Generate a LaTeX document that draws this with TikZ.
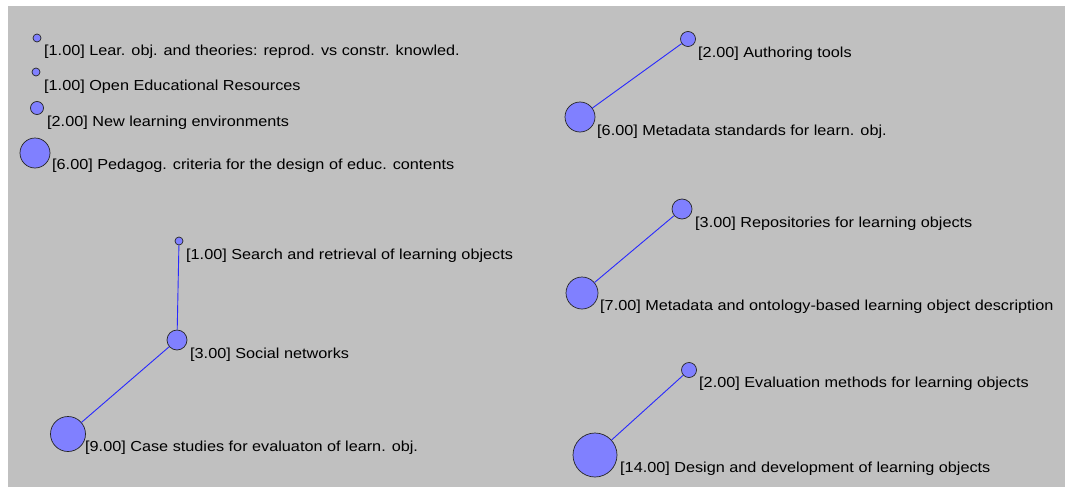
\documentclass[tikz,border=0pt]{standalone}
\usepackage{fontspec}
\setmainfont{Liberation Sans}
\definecolor{bggray}{RGB}{192,192,192}
\definecolor{nodefill}{RGB}{128,128,255}
\definecolor{edgeblue}{RGB}{40,40,255}
\newcommand{\widelab}[1]{\scalebox{1.12}[1]{#1}}
\begin{document}
\begin{tikzpicture}[x=1pt,y=-1pt,
  topic/.style={circle,draw=black!85,line width=0.7pt,fill=nodefill,inner sep=0pt,minimum size=#1},
  lbl/.style={anchor=west,inner sep=0pt,yshift=-2pt,font=\fontsize{14.5}{15}\selectfont},
  link/.style={draw=edgeblue,line width=0.9pt}]
\useasboundingbox (0,0) rectangle (1067,487);
\fill[white] (0,0) rectangle (1067,487);
\fill[bggray] (8,6) rectangle (1065,487);
% left group singles
\node[topic=8pt] (a1) at (37,38) {};
\node[lbl] (la1) at (44,50) {\widelab{[1.00] Lear. obj. and theories: reprod. vs constr. knowled.}};
\node[topic=8pt] (a2) at (36,72) {};
\node[lbl] (la2) at (44,85) {\widelab{[1.00] Open Educational Resources}};
\node[topic=13pt] (a3) at (37,108) {};
\node[lbl] (la3) at (47,121) {\widelab{[2.00] New learning environments}};
\node[topic=30pt] (a4) at (35,153) {};
\node[lbl] (la4) at (52,164) {\widelab{[6.00] Pedagog. criteria for the design of educ. contents}};
% left chain
\node[topic=8pt] (b1) at (179,241) {};
\node[lbl] (lb1) at (186,254) {\widelab{[1.00] Search and retrieval of learning objects}};
\node[topic=20pt] (b2) at (177,340) {};
\node[lbl] (lb2) at (190,353) {\widelab{[3.00] Social networks}};
\node[topic=35pt] (b3) at (68,434) {};
\node[lbl] (lb3) at (85,446) {\widelab{[9.00] Case studies for evaluaton of learn. obj.}};
% right pairs
\node[topic=15pt] (c1) at (688,39) {};
\node[lbl] (lc1) at (698,52) {\widelab{[2.00] Authoring tools}};
\node[topic=30pt] (c2) at (580,117) {};
\node[lbl] (lc2) at (597,130) {\widelab{[6.00] Metadata standards for learn. obj.}};
\node[topic=20pt] (d1) at (682,209) {};
\node[lbl] (ld1) at (695,222) {\widelab{[3.00] Repositories for learning objects}};
\node[topic=32pt] (d2) at (582,293) {};
\node[lbl] (ld2) at (600,305) {\widelab{[7.00] Metadata and ontology-based learning object description}};
\node[topic=15pt] (e1) at (689,370) {};
\node[lbl] (le1) at (699,382) {\widelab{[2.00] Evaluation methods for learning objects}};
\node[topic=44pt] (e2) at (595,455) {};
\node[lbl] (le2) at (620,467) {\widelab{[14.00] Design and development of learning objects}};
% links
\draw[link] (b1) -- (b2);
\draw[link] (b2) -- (b3);
\draw[link] (c1) -- (c2);
\draw[link] (d1) -- (d2);
\draw[link] (e1) -- (e2);
\end{tikzpicture}
\end{document}
